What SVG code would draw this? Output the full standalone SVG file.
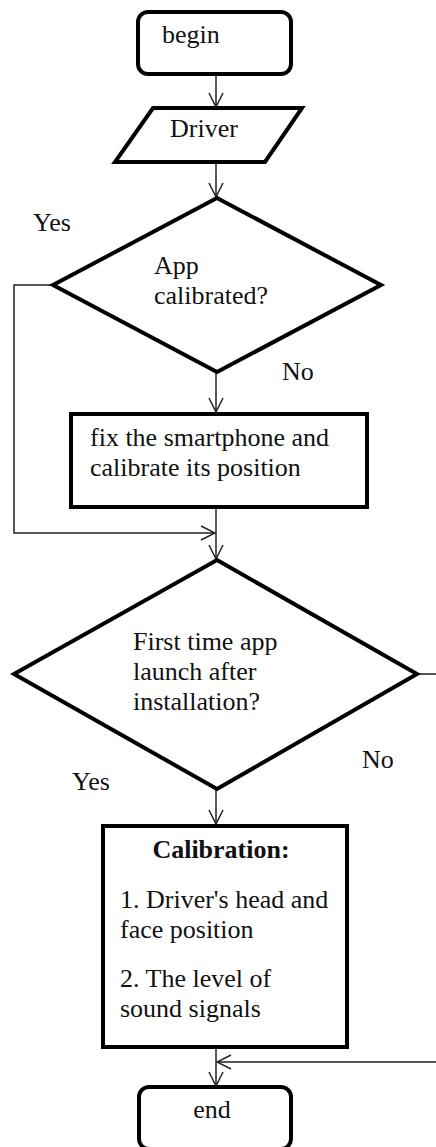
<svg xmlns="http://www.w3.org/2000/svg" width="436" height="1147" viewBox="0 0 436 1147">
  <style>
    .shape { fill: #fff; stroke: #000; stroke-width: 4; stroke-linejoin: miter; }
    .term { fill: #fff; stroke: #000; stroke-width: 4; }
    .conn { fill: none; stroke: #222; stroke-width: 1.5; }
    text { font-family: "Liberation Serif", "Times New Roman", serif; font-size: 26px; fill: #111; }
    .bold { font-weight: bold; }
  </style>
  <defs>
    <marker id="open" viewBox="0 0 16 16" refX="15" refY="8" markerWidth="16" markerHeight="16" markerUnits="userSpaceOnUse" orient="auto">
      <path d="M1,1 L15,8 L1,15" fill="none" stroke="#222" stroke-width="1.5"/>
    </marker>
  </defs>
  <rect width="436" height="1147" fill="#fff"/>

  <!-- connectors -->
  <g id="connectors">
    <line class="conn" x1="216" y1="74" x2="216" y2="107" marker-end="url(#open)"/>
    <line class="conn" x1="216" y1="163" x2="216" y2="197" marker-end="url(#open)"/>
    <line class="conn" x1="216" y1="372" x2="216" y2="412" marker-end="url(#open)"/>
    <path class="conn" d="M53,285 H14 V533 H215" marker-end="url(#open)"/>
    <line class="conn" x1="216" y1="508" x2="216" y2="559" marker-end="url(#open)"/>
    <line class="conn" x1="216" y1="790" x2="216" y2="824" marker-end="url(#open)"/>
    <path class="conn" d="M417,674 H442 V1062 H217" marker-end="url(#open)"/>
    <line class="conn" x1="216" y1="1047" x2="216" y2="1086" marker-end="url(#open)"/>
    <text x="33" y="231">Yes</text>
    <text x="282" y="380">No</text>
    <text x="362" y="768">No</text>
    <text x="72" y="790">Yes</text>
  </g>

  <g id="begin">
    <rect class="term" x="138" y="12" width="153" height="62" rx="10"/>
    <text x="162" y="43">begin</text>
  </g>

  <g id="driver">
    <polygon class="shape" points="153,108 302,108 265,162 115,162"/>
    <text x="170" y="137">Driver</text>
  </g>

  <g id="app-calibrated">
    <polygon class="shape" points="217,198 381,285 217,372 53,285"/>
    <text x="154" y="274">App</text>
    <text x="154" y="304">calibrated?</text>
  </g>

  <g id="fix-phone">
    <rect class="shape" x="71" y="414" width="296" height="93"/>
    <text x="90" y="446">fix the smartphone and</text>
    <text x="90" y="476">calibrate its position</text>
  </g>

  <g id="first-launch">
    <polygon class="shape" points="217,560 417,674 217,789 14,674"/>
    <text x="133" y="650">First time app</text>
    <text x="133" y="680">launch after</text>
    <text x="133" y="710">installation?</text>
  </g>

  <g id="calibration">
    <rect class="shape" x="103" y="826" width="244" height="221"/>
    <text class="bold" x="221" y="858" text-anchor="middle">Calibration:</text>
    <text x="120" y="908">1. Driver's head and</text>
    <text x="120" y="938">face position</text>
    <text x="120" y="987">2. The level of</text>
    <text x="120" y="1017">sound signals</text>
  </g>

  <g id="end">
    <rect class="term" x="139" y="1087" width="152" height="62" rx="10"/>
    <text x="212" y="1118" text-anchor="middle">end</text>
  </g>
</svg>
